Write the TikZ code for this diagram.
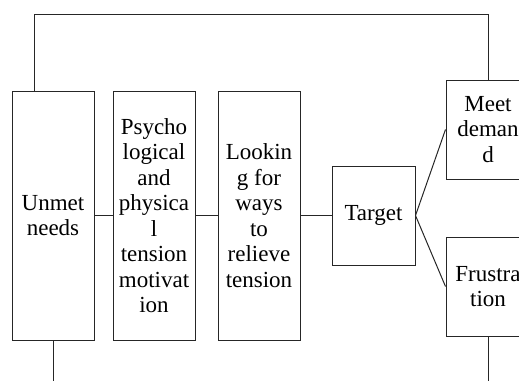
\documentclass[tikz,border=0pt]{standalone}
\usepackage{fontspec}
\setmainfont{Liberation Serif}
\usetikzlibrary{positioning}

\begin{document}
\begin{tikzpicture}[x=1pt, y=-1pt,
  box/.style={rectangle, draw=black!85, line width=1pt, minimum width=#1, align=center, inner sep=0pt,
    font=\fontsize{23}{25.5}\selectfont},
  box/.default=82pt,
  link/.style={draw=black!85, line width=1pt}
]
  \useasboundingbox (0,0) rectangle (519,380);
  \clip (0,0) rectangle (519,380);
  \node[box, minimum height=249pt] (unmet) at (53,215.5) {Unmet\\needs};
  \node[box, minimum height=249pt] (tension) at (154,215.5) {Psycho\\logical\\and\\physica\\l\\tension\\motivat\\ion};
  \node[box, minimum height=249pt] (ways) at (259,215.5) {Lookin\\g for\\ways\\to\\relieve\\tension};
  \node[box=83pt, minimum height=99pt] (target) at (373.5,215.5) {Target};
  \node[box=84pt, minimum height=99pt] (meet) at (488,129.5) {Meet\\deman\\d};
  \node[box=84pt, minimum height=99pt] (frust) at (488,286.5) {Frustra\\tion};
  \coordinate (top) at (34,14);
  \coordinate (bottom) at (0,381);
  \path[link] (unmet) -- (tension);
  \path[link] (tension) -- (ways);
  \path[link] (ways) -- (target);
  \path[link] (target.east) -- (meet.west);
  \path[link] (target.east) -- (frust.west);
  \path[link] (unmet.north -| top) |- (meet.north |- top) -- (meet.north);
  \path[link] (unmet.south) -- (unmet.south |- bottom);
  \path[link] (frust.south) -- (frust.south |- bottom);
\end{tikzpicture}
\end{document}
